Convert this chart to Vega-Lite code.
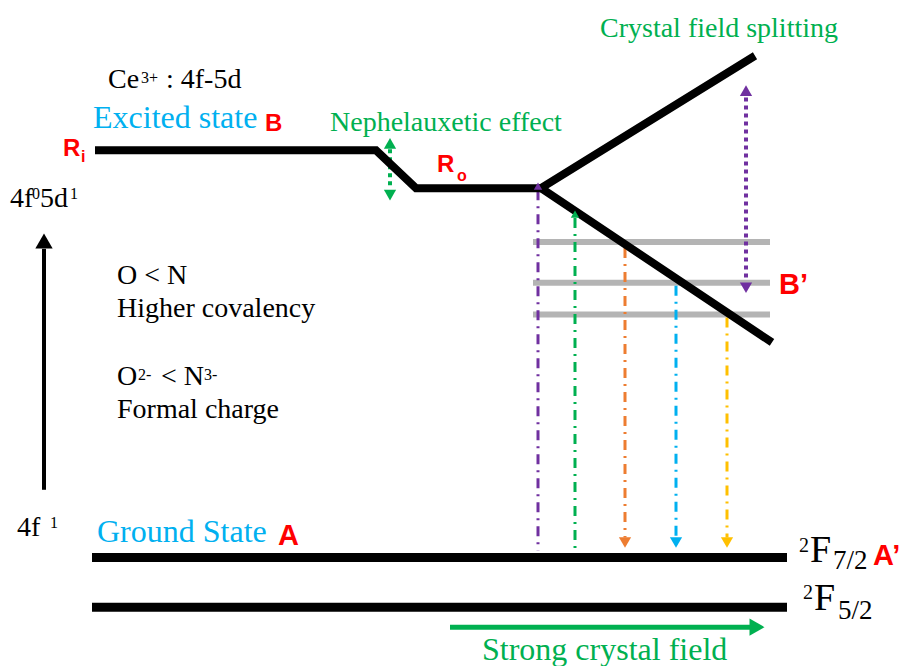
{
  "$schema": "https://vega.github.io/schema/vega-lite/v6.json",
  "width": 902,
  "height": 666,
  "autosize": {"type": "fit", "contains": "padding"},
  "padding": 0,
  "background": "white",
  "config": {"view": {"stroke": null}},
  "datasets": {
    "lines": [
      {"seg": "s1", "o": 1, "x": 95, "y": 151},
      {"seg": "s1", "o": 2, "x": 376, "y": 151},
      {"seg": "s1", "o": 3, "x": 416, "y": 189},
      {"seg": "s1", "o": 4, "x": 541, "y": 189},
      {"seg": "s2", "o": 1, "x": 755, "y": 56},
      {"seg": "s2", "o": 2, "x": 541, "y": 189},
      {"seg": "s2", "o": 3, "x": 772, "y": 344}
    ],
    "levels": [
      {"x": 92, "x2": 787, "y": 560},
      {"x": 92, "x2": 787, "y": 610}
    ],
    "gray": [
      {"x": 533, "x2": 770, "y": 243},
      {"x": 533, "x2": 770, "y": 284},
      {"x": 533, "x2": 770, "y": 316}
    ],
    "vert": [
      {"c": "purple", "x": 538, "y": 191, "y2": 553},
      {"c": "green", "x": 575, "y": 219, "y2": 553},
      {"c": "orange", "x": 625, "y": 249, "y2": 540},
      {"c": "blue", "x": 676, "y": 287, "y2": 540},
      {"c": "yellow", "x": 727, "y": 319, "y2": 540}
    ],
    "dotted": [
      {"c": "purple", "x": 746, "y": 98, "y2": 282},
      {"c": "green", "x": 390, "y": 150, "y2": 190}
    ],
    "shafts": [
      {"c": "black", "x": 44, "y": 250, "y2": 492}
    ],
    "hshafts": [
      {"c": "green", "x": 450, "x2": 752, "y": 630}
    ],
    "heads": [
      {"c": "purple", "k": "s", "dir": "up", "x": 538, "y": 187},
      {"c": "green", "k": "s", "dir": "up", "x": 575, "y": 215},
      {"c": "orange", "k": "m", "dir": "down", "x": 625, "y": 545},
      {"c": "blue", "k": "m", "dir": "down", "x": 676, "y": 545},
      {"c": "yellow", "k": "m", "dir": "down", "x": 727, "y": 545},
      {"c": "purple", "k": "m", "dir": "up", "x": 746, "y": 91},
      {"c": "purple", "k": "m", "dir": "down", "x": 746, "y": 289},
      {"c": "green", "k": "m", "dir": "up", "x": 390, "y": 144},
      {"c": "green", "k": "m", "dir": "down", "x": 390, "y": 196},
      {"c": "black", "k": "l", "dir": "up", "x": 44, "y": 242},
      {"c": "green", "k": "l", "dir": "right", "x": 757, "y": 630}
    ],
    "texts": [
      {"k": "s28", "t": "Ce", "x": 108, "y": 88},
      {"k": "s28", "t": ": 4f-5d", "x": 166, "y": 88},
      {"k": "s28", "t": "4f", "x": 10, "y": 208},
      {"k": "s28", "t": "5d", "x": 40, "y": 208},
      {"k": "s28", "t": "O < N", "x": 117, "y": 285},
      {"k": "s28", "t": "Higher covalency", "x": 117, "y": 318},
      {"k": "s28", "t": "O", "x": 117, "y": 387},
      {"k": "s28", "t": "< N", "x": 161, "y": 387},
      {"k": "s28", "t": "Formal charge", "x": 117, "y": 420},
      {"k": "s28", "t": "4f", "x": 17, "y": 538},
      {"k": "sup", "t": "3+", "x": 141, "y": 83},
      {"k": "sup", "t": "0", "x": 32, "y": 200},
      {"k": "sup", "t": "1", "x": 70, "y": 200},
      {"k": "sup", "t": "2-", "x": 138, "y": 382},
      {"k": "sup", "t": "3-", "x": 204, "y": 382},
      {"k": "sup", "t": "1", "x": 50, "y": 530},
      {"k": "F", "t": "F", "x": 810, "y": 565},
      {"k": "F", "t": "F", "x": 814, "y": 613},
      {"k": "fsup", "t": "2", "x": 799, "y": 554},
      {"k": "fsup", "t": "2", "x": 803, "y": 602},
      {"k": "fsub", "t": "7/2", "x": 833, "y": 572},
      {"k": "fsub", "t": "5/2", "x": 838, "y": 622},
      {"k": "blue", "t": "Excited state", "x": 93, "y": 129},
      {"k": "blue", "t": "Ground State", "x": 97, "y": 544},
      {"k": "green", "t": "Crystal field splitting", "x": 600, "y": 37},
      {"k": "green", "t": "Nephelauxetic effect", "x": 330, "y": 132},
      {"k": "green32", "t": "Strong crystal field", "x": 482, "y": 663},
      {"k": "red24", "t": "B", "x": 265, "y": 132},
      {"k": "red24", "t": "R", "x": 63, "y": 157},
      {"k": "red24", "t": "R", "x": 437, "y": 173},
      {"k": "red16", "t": "i", "x": 81, "y": 163},
      {"k": "red16", "t": "o", "x": 457, "y": 182},
      {"k": "red29", "t": "B’", "x": 779, "y": 295},
      {"k": "red29", "t": "A", "x": 278, "y": 547},
      {"k": "red29", "t": "A’", "x": 873, "y": 568}
    ]
  },
  "layer": [
    {
      "data": {"name": "gray"},
      "mark": {"type": "rule", "stroke": "#b4b4b4", "strokeWidth": 6},
      "encoding": {
        "x": {"field": "x", "type": "quantitative", "scale": {"domain": [0, 902], "nice": false, "zero": false}, "axis": null},
        "x2": {"field": "x2"},
        "y": {"field": "y", "type": "quantitative", "scale": {"domain": [0, 666], "nice": false, "zero": false, "reverse": true}, "axis": null}
      }
    },
    {
      "data": {"name": "vert"},
      "mark": {"type": "rule", "strokeWidth": 3, "strokeDash": [10, 6, 2, 6]},
      "encoding": {
        "x": {"field": "x", "type": "quantitative", "axis": null},
        "y": {"field": "y", "type": "quantitative", "axis": null},
        "y2": {"field": "y2"},
        "color": {"field": "c", "type": "nominal", "legend": null, "scale": {"domain": ["purple", "green", "orange", "blue", "yellow", "black"], "range": ["#7030a0", "#00b050", "#ed7d31", "#00b0f0", "#ffc000", "#000000"]}}
      }
    },
    {
      "data": {"name": "dotted"},
      "mark": {"type": "rule", "strokeWidth": 4, "strokeDash": [4, 4]},
      "encoding": {
        "x": {"field": "x", "type": "quantitative", "axis": null},
        "y": {"field": "y", "type": "quantitative", "axis": null},
        "y2": {"field": "y2"},
        "color": {"field": "c", "type": "nominal", "legend": null, "scale": {"domain": ["purple", "green", "orange", "blue", "yellow", "black"], "range": ["#7030a0", "#00b050", "#ed7d31", "#00b0f0", "#ffc000", "#000000"]}}
      }
    },
    {
      "data": {"name": "shafts"},
      "mark": {"type": "rule", "strokeWidth": 4, "stroke": "#000000"},
      "encoding": {
        "x": {"field": "x", "type": "quantitative", "axis": null},
        "y": {"field": "y", "type": "quantitative", "axis": null},
        "y2": {"field": "y2"}
      }
    },
    {
      "data": {"name": "hshafts"},
      "mark": {"type": "rule", "strokeWidth": 5, "stroke": "#00b050"},
      "encoding": {
        "x": {"field": "x", "type": "quantitative", "axis": null},
        "x2": {"field": "x2"},
        "y": {"field": "y", "type": "quantitative", "axis": null}
      }
    },
    {
      "data": {"name": "levels"},
      "mark": {"type": "rule", "stroke": "#000000", "strokeWidth": 9},
      "encoding": {
        "x": {"field": "x", "type": "quantitative", "axis": null},
        "x2": {"field": "x2"},
        "y": {"field": "y", "type": "quantitative", "axis": null}
      }
    },
    {
      "data": {"name": "lines"},
      "mark": {"type": "line", "stroke": "#000000", "strokeWidth": 8, "strokeJoin": "miter", "strokeCap": "butt"},
      "encoding": {
        "x": {"field": "x", "type": "quantitative", "axis": null},
        "y": {"field": "y", "type": "quantitative", "axis": null},
        "detail": {"field": "seg", "type": "nominal"},
        "order": {"field": "o", "type": "quantitative"}
      }
    },
    {
      "data": {"name": "heads"},
      "mark": {"type": "point", "filled": true, "opacity": 1, "strokeWidth": 0},
      "encoding": {
        "x": {"field": "x", "type": "quantitative", "axis": null},
        "y": {"field": "y", "type": "quantitative", "axis": null},
        "shape": {"field": "dir", "type": "nominal", "legend": null, "scale": {"domain": ["up", "down", "right"], "range": ["triangle-up", "triangle-down", "triangle-right"]}},
        "size": {"field": "k", "type": "nominal", "legend": null, "scale": {"type": "ordinal", "domain": ["s", "m", "l"], "range": [70, 150, 300]}},
        "color": {"field": "c", "type": "nominal", "legend": null, "scale": {"domain": ["purple", "green", "orange", "blue", "yellow", "black"], "range": ["#7030a0", "#00b050", "#ed7d31", "#00b0f0", "#ffc000", "#000000"]}}
      }
    },
    {
      "data": {"name": "texts"},
      "transform": [{"filter": "datum.k == 's28'"}],
      "mark": {"type": "text", "font": "Liberation Serif", "fontSize": 28, "color": "#000000", "align": "left", "baseline": "alphabetic"},
      "encoding": {
        "x": {"field": "x", "type": "quantitative", "axis": null},
        "y": {"field": "y", "type": "quantitative", "axis": null},
        "text": {"field": "t"}
      }
    },
    {
      "data": {"name": "texts"},
      "transform": [{"filter": "datum.k == 'sup'"}],
      "mark": {"type": "text", "font": "Liberation Serif", "fontSize": 16, "color": "#000000", "align": "left", "baseline": "alphabetic"},
      "encoding": {
        "x": {"field": "x", "type": "quantitative", "axis": null},
        "y": {"field": "y", "type": "quantitative", "axis": null},
        "text": {"field": "t"}
      }
    },
    {
      "data": {"name": "texts"},
      "transform": [{"filter": "datum.k == 'F'"}],
      "mark": {"type": "text", "font": "Liberation Serif", "fontSize": 38, "color": "#000000", "align": "left", "baseline": "alphabetic"},
      "encoding": {
        "x": {"field": "x", "type": "quantitative", "axis": null},
        "y": {"field": "y", "type": "quantitative", "axis": null},
        "text": {"field": "t"}
      }
    },
    {
      "data": {"name": "texts"},
      "transform": [{"filter": "datum.k == 'fsup'"}],
      "mark": {"type": "text", "font": "Liberation Serif", "fontSize": 20, "color": "#000000", "align": "left", "baseline": "alphabetic"},
      "encoding": {
        "x": {"field": "x", "type": "quantitative", "axis": null},
        "y": {"field": "y", "type": "quantitative", "axis": null},
        "text": {"field": "t"}
      }
    },
    {
      "data": {"name": "texts"},
      "transform": [{"filter": "datum.k == 'fsub'"}],
      "mark": {"type": "text", "font": "Liberation Serif", "fontSize": 27, "color": "#000000", "align": "left", "baseline": "alphabetic"},
      "encoding": {
        "x": {"field": "x", "type": "quantitative", "axis": null},
        "y": {"field": "y", "type": "quantitative", "axis": null},
        "text": {"field": "t"}
      }
    },
    {
      "data": {"name": "texts"},
      "transform": [{"filter": "datum.k == 'blue'"}],
      "mark": {"type": "text", "font": "Liberation Serif", "fontSize": 32, "color": "#00b0f0", "align": "left", "baseline": "alphabetic"},
      "encoding": {
        "x": {"field": "x", "type": "quantitative", "axis": null},
        "y": {"field": "y", "type": "quantitative", "axis": null},
        "text": {"field": "t"}
      }
    },
    {
      "data": {"name": "texts"},
      "transform": [{"filter": "datum.k == 'green'"}],
      "mark": {"type": "text", "font": "Liberation Serif", "fontSize": 28, "color": "#00b050", "align": "left", "baseline": "alphabetic"},
      "encoding": {
        "x": {"field": "x", "type": "quantitative", "axis": null},
        "y": {"field": "y", "type": "quantitative", "axis": null},
        "text": {"field": "t"}
      }
    },
    {
      "data": {"name": "texts"},
      "transform": [{"filter": "datum.k == 'green32'"}],
      "mark": {"type": "text", "font": "Liberation Serif", "fontSize": 32, "color": "#00b050", "align": "left", "baseline": "alphabetic"},
      "encoding": {
        "x": {"field": "x", "type": "quantitative", "axis": null},
        "y": {"field": "y", "type": "quantitative", "axis": null},
        "text": {"field": "t"}
      }
    },
    {
      "data": {"name": "texts"},
      "transform": [{"filter": "datum.k == 'red24'"}],
      "mark": {"type": "text", "font": "Liberation Sans", "fontWeight": "bold", "fontSize": 24, "color": "#ff0000", "align": "left", "baseline": "alphabetic"},
      "encoding": {
        "x": {"field": "x", "type": "quantitative", "axis": null},
        "y": {"field": "y", "type": "quantitative", "axis": null},
        "text": {"field": "t"}
      }
    },
    {
      "data": {"name": "texts"},
      "transform": [{"filter": "datum.k == 'red16'"}],
      "mark": {"type": "text", "font": "Liberation Sans", "fontWeight": "bold", "fontSize": 16, "color": "#ff0000", "align": "left", "baseline": "alphabetic"},
      "encoding": {
        "x": {"field": "x", "type": "quantitative", "axis": null},
        "y": {"field": "y", "type": "quantitative", "axis": null},
        "text": {"field": "t"}
      }
    },
    {
      "data": {"name": "texts"},
      "transform": [{"filter": "datum.k == 'red29'"}],
      "mark": {"type": "text", "font": "Liberation Sans", "fontWeight": "bold", "fontSize": 29, "color": "#ff0000", "align": "left", "baseline": "alphabetic"},
      "encoding": {
        "x": {"field": "x", "type": "quantitative", "axis": null},
        "y": {"field": "y", "type": "quantitative", "axis": null},
        "text": {"field": "t"}
      }
    }
  ]
}
